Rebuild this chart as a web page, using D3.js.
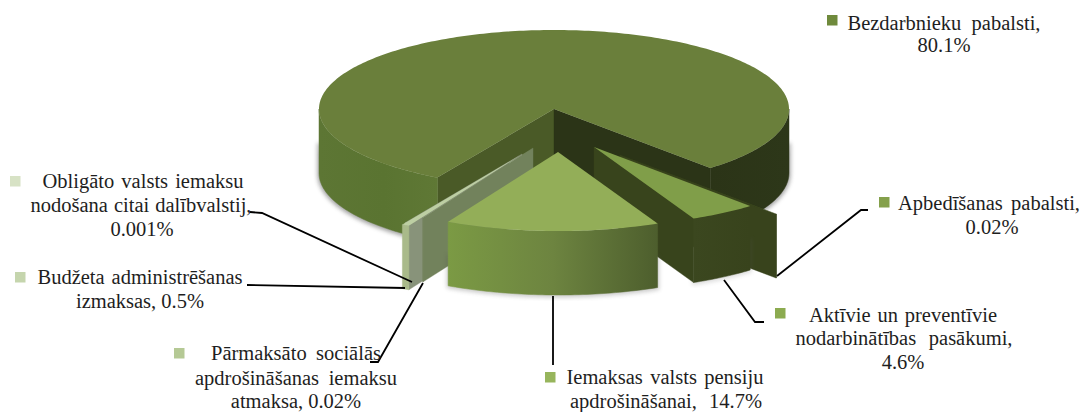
<!DOCTYPE html>
<html><head><meta charset="utf-8">
<style>html,body{margin:0;padding:0;background:#fff}svg{display:block}text{font-family:"Liberation Serif",serif;fill:#1e1e1e}</style>
<script src="https://cdn.jsdelivr.net/npm/d3@7/dist/d3.min.js"></script>
</head><body><div id="chart"></div>
<script>
const categories=["Bezdarbnieku pabalsti","Apbedīšanas pabalsti","Aktīvie un preventīvie nodarbinātības pasākumi","Iemaksas valsts pensiju apdrošināšanai","Pārmaksāto sociālās apdrošināšanas iemaksu atmaksa","Budžeta administrēšanas izmaksas","Obligāto valsts iemaksu nodošana citai dalībvalstij"];
const values=[80.1,0.02,4.6,14.7,0.02,0.5,0.001];
const valueLabels=["80.1%","0.02%","4.6%","14.7%","0.02%","0.5%","0.001%"];
const labelLines=[
 ["Bezdarbnieku pabalsti,","80.1%"],
 ["Apbedīšanas pabalsti,","0.02%"],
 ["Aktīvie un preventīvie","nodarbinātības pasākumi,","4.6%"],
 ["Iemaksas valsts pensiju","apdrošināšanai, 14.7%"],
 ["Pārmaksāto sociālās","apdrošināšanas iemaksu","atmaksa, 0.02%"],
 ["Budžeta administrēšanas","izmaksas, 0.5%"],
 ["Obligāto valsts iemaksu","nodošana citai dalībvalstij,","0.001%"]];
const markerColors=["#6f8a3c","#84a04b","#8cab50","#97b55c","#b5c995","#c5d5ad","#d7e2c5"];

const W=1083,H=412;
const svg=d3.select("#chart").append("svg").attr("width",W).attr("height",H);
const defs=svg.append("defs");
defs.append("filter").attr("id","soft").attr("x","-10%").attr("y","-10%").attr("width","120%").attr("height","120%")
  .append("feGaussianBlur").attr("stdDeviation",2);

// projection of the tilted pie
const cx=554,cy=109,rx=235,ry=79,depth=64;
const px=d3.scaleLinear().domain([-1,1]).range([cx-rx,cx+rx]);
const py=d3.scaleLinear().domain([-1,1]).range([cy-ry,cy+ry]);
const deg=Math.PI/180,start=209.75*deg;
const pie=d3.pie().sort(null).startAngle(start).endAngle(start+2*Math.PI)(values);

// explosion offset and look of each slice
const look=[
 {off:[0,0],top:"#6a7f3b",a0:"#4a5a27",a1:"#2b3417",outer:[["0%","#2b3417"],["100%","#2d3719"]],outerL:[["0%","#5d7634"],["55%","#5a7431"],["100%","#5f7835"]],shadow:.55},
 {off:[66,46],top:"#4a5a27",a0:"#38431c",a1:"#38431c",outer:[["0%","#38431c"],["100%","#38431c"]]},
 {off:[40,38],top:"#809e49",a0:"#38441c",a1:"#38441c",outer:[["0%","#3b471f"],["100%","#38431c"]],shadow:.2},
 {off:[4,43],top:"#93ae58",a0:"#5a7030",a1:"#5a7030",outer:[["0%","#7b9a44"],["50%","#6d8440"],["100%","#4d5e2d"]],shadow:.3},
 {off:[-21,39],top:"#bdcfa3",a0:"#72825c",a1:"#72825c",outer:[["0%","#72825c"],["100%","#72825c"]]},
 {off:[-35,47],top:"#bdcfa3",a0:"#88937a",a1:"#88937a",outer:[["0%","#a9ba8a"],["100%","#a9ba8a"]]},
 {off:[-32,45],top:"#c8d8b0",a0:"#88937a",a1:"#88937a",outer:[["0%","#a9ba8a"],["100%","#a9ba8a"]]}
];
const line=d3.line();
const pt=(a,dx,dy,dz=0)=>[px(Math.sin(a))+dx,py(-Math.cos(a))+dy+dz];
function grad(id,stops){
  const g=defs.append("linearGradient").attr("id",id);
  stops.forEach(s=>g.append("stop").attr("offset",s[0]).attr("stop-color",s[1]));
  return `url(#${id})`;
}
function arcPts(a,b,dx,dy,dz){
  const n=Math.max(2,Math.ceil(Math.abs(b-a)/deg)),pts=[];
  for(let i=0;i<=n;i++)pts.push(pt(a+(b-a)*i/n,dx,dy,dz));
  return pts;
}
// front half of the ellipse: clockwise angles from 90 to 270 degrees
function frontRanges(a,b){
  const out=[];
  for(const k of [-1,0,1,2]){
    const lo=Math.max(a,(90*deg)+k*2*Math.PI),hi=Math.min(b,(270*deg)+k*2*Math.PI);
    if(hi>lo)out.push([lo,hi]);
  }
  return out;
}
const g=svg.append("g");
const order=[0,1,2,6,5,4,3];
order.forEach(i=>{
  const d=pie[i],L=look[i],[dx,dy]=L.off,a=d.startAngle,b=d.endAngle;
  const apex=[cx+dx,cy+dy];
  const topShape=[apex,...arcPts(a,b,dx,dy,0)];
  if(L.shadow){
    const base=frontRanges(a,b).map(r=>{
      const up=arcPts(r[0],r[1],dx,dy,depth+1);
      return line([...up,...arcPts(r[1],r[0],dx,dy,depth-30)])+"Z";
    }).join("");
    g.append("path").attr("d",base).attr("fill","#555").attr("stroke","#555").attr("stroke-width",3).attr("opacity",L.shadow).attr("filter","url(#soft)");
  }
  const wall=(ang,color)=>{
    const c=pt(ang,dx,dy);
    g.append("path").attr("d",line([apex,c,[c[0],c[1]+depth],[apex[0],apex[1]+depth]])+"Z").attr("fill",color).attr("stroke",color).attr("stroke-width",.4);
  };
  // slice-side walls: only those that face the viewer
  const na=((a/deg)%360+360)%360,nb=((b/deg)%360+360)%360;
  if(na>180)wall(a,L.a0);
  if(nb<180)wall(b,L.a1);
  // rim
  frontRanges(a,b).forEach((r,ri)=>{
    const isLeft=((r[0]/deg)%360+360)%360>=180;
    const stops=(L.outerL&&isLeft)?L.outerL:L.outer;
    const fill=grad(`rim${i}_${ri}`,stops);
    g.append("path").attr("d",line([...arcPts(r[0],r[1],dx,dy,0),...arcPts(r[1],r[0],dx,dy,depth)])+"Z").attr("fill",fill).attr("stroke",fill).attr("stroke-width",.5);
  });
  g.append("path").attr("d",line(topShape)+"Z").attr("fill",L.top);
});

// leader lines
const leaders=[
 [[777,276],[861,210],[868,210]],
 [[724,280],[755,322],[764,322]],
 [[553,296],[553,365]],
 [[423,283],[378,362],[370,362]],
 [[405,288],[247,285]],
 [[412,282],[262,213],[250,212]]
];
svg.append("g").selectAll("path").data(leaders).join("path").attr("d",d=>line(d)).attr("fill","none").attr("stroke","#000").attr("stroke-width",1.8);

// labels: marker box, per-line centre, baselines and target width
const layout=[
 {m:[827,15],c:[944,944],y:[30,52],w:[193,0]},
 {m:[879,197],c:[989,992],y:[210,234],w:[182,0]},
 {m:[775,308],c:[903,904,903],y:[322,345,369],w:[188,217,0]},
 {m:[545,372],c:[665,666],y:[384,408],w:[197,192]},
 {m:[174,348],c:[296,296,296],y:[360,385,408],w:[170,202,0]},
 {m:[15,272],c:[140,140],y:[284,308],w:[205,0]},
 {m:[10,176],c:[143,141,142],y:[188,212,236],w:[201,221,0]}
];
const lab=svg.append("g");
layout.forEach((l,i)=>{
  lab.append("rect").attr("x",l.m[0]).attr("y",l.m[1]).attr("width",10.5).attr("height",10.5).attr("fill",markerColors[i]);
  labelLines[i].forEach((t,j)=>{
    const el=lab.append("text").attr("x",l.c[j]).attr("y",l.y[j]).attr("text-anchor","middle").attr("font-size",20.5).text(t);
    if(l.w[j]){
      const spaces=(t.match(/ /g)||[]).length;
      if(spaces){const diff=l.w[j]-el.node().getComputedTextLength();el.attr("word-spacing",diff/spaces);}
    }
  });
});
</script></body></html>
